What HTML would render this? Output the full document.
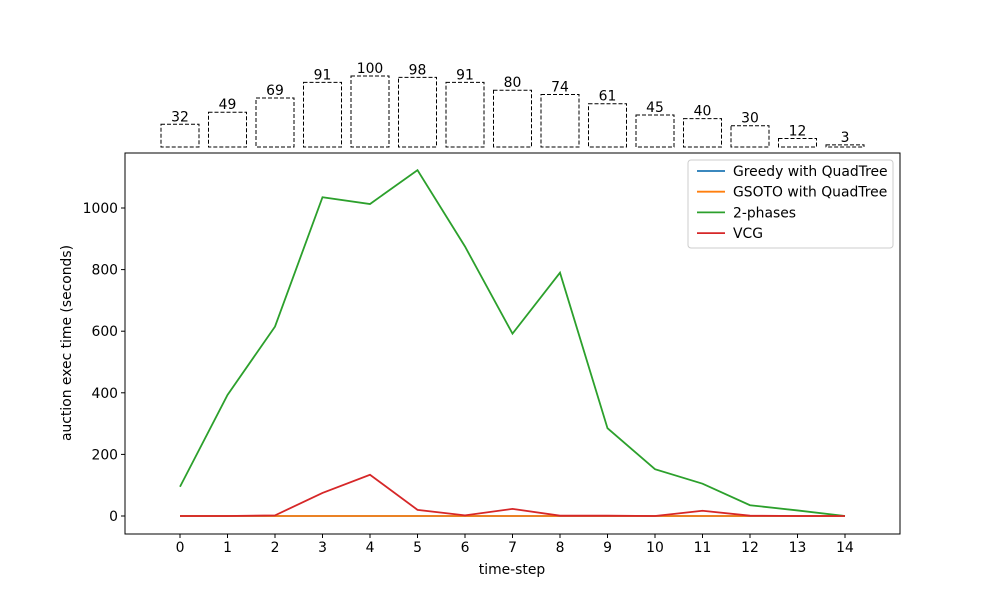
<!DOCTYPE html>
<html><head><meta charset="utf-8"><style>
body{margin:0;background:#fff;font-family:"DejaVu Sans","Liberation Sans",sans-serif;}
svg text{font-family:"DejaVu Sans","Liberation Sans",sans-serif;font-size:13.9px;fill:#000;}
</style></head><body>
<svg id="chart" width="1000" height="600" xmlns="http://www.w3.org/2000/svg">
<rect width="1000" height="600" fill="#fff"/>
<g id="bars"></g>
<g id="main"></g>
</svg>
<script>
const steps=[0,1,2,3,4,5,6,7,8,9,10,11,12,13,14];
const counts=[32,49,69,91,100,98,91,80,74,61,45,40,30,12,3];
const greedy=[0,0,0,0,0,0,0,0,0,0,0,0,0,0,0];
const gsoto=[0,0,0,0,0,0,0,0,0,0,0,0,0,0,0];
const twoPhases=[95,393,615,1035,1013,1123,875,592,790,285,152,105,35,18,0];
const vcg=[0,0,2,75,134,20,2,23,1,1,0,17,1,0,0];
const yTicks=[0,200,400,600,800,1000];
const seriesNames=["Greedy with QuadTree","GSOTO with QuadTree","2-phases","VCG"];
const colors=["#1f77b4","#ff7f0e","#2ca02c","#d62728"];
const NS="http://www.w3.org/2000/svg";
function mk(tag,attrs,parent,text){const e=document.createElementNS(NS,tag);for(const k in attrs)e.setAttribute(k,attrs[k]);if(text!==undefined)e.textContent=text;parent.appendChild(e);return e;}
const L=125,R=900,T=153,B=534;
const x=i=>180+i*47.5;
const y=v=>516-v*0.308;
const bh=v=>v*0.71;
const bars=document.getElementById('bars');
const main=document.getElementById('main');
counts.forEach((c,i)=>{
 const r=mk('rect',{x:x(steps[i])-19,y:147-bh(c),width:38,height:bh(c),fill:'none',stroke:'#000','stroke-dasharray':'4,2'},bars);
 
 
 const t=mk('text',{x:x(steps[i]),y:147-bh(c)-3,'text-anchor':'middle'},bars,String(c));
 
 
});
const fr=mk('rect',{x:L,y:T,width:R-L,height:B-T,fill:'none',stroke:'#000','stroke-width':1},main);


steps.forEach(s=>{
 mk('line',{x1:x(s),x2:x(s),y1:B,y2:B+4,stroke:'#000'},main);
 const t=mk('text',{x:x(s),y:B+18,'text-anchor':'middle'},main,String(s));
 
 
});
yTicks.forEach(v=>{
 mk('line',{x1:L-4,x2:L,y1:y(v),y2:y(v),stroke:'#000'},main);
 const t=mk('text',{x:L-7,y:y(v)+5,'text-anchor':'end'},main,String(v));
 
 
});
const xt=mk('text',{x:512,y:574,'text-anchor':'middle'},main,'time-step');


const yt=mk('text',{x:71,y:343,'text-anchor':'middle',transform:'rotate(-90 71 343)'},main,'auction exec time (seconds)');


[greedy,gsoto,twoPhases,vcg].forEach((d,k)=>{
 const p=mk('polyline',{points:d.map((v,i)=>x(steps[i])+','+y(v)).join(' '),fill:'none',stroke:colors[k],'stroke-width':1.8},main);
 
 
});
const lg=mk('g',{},main);


mk('rect',{x:688,y:160,width:205,height:88,rx:3,fill:'#fff',stroke:'#ccc'},lg);
seriesNames.forEach((n,k)=>{
 const yy=171+k*20.7;
 mk('line',{x1:697,x2:725,y1:yy,y2:yy,stroke:colors[k],'stroke-width':1.8},lg);
 const t=mk('text',{x:733,y:yy+5},lg,n);
 
 
});
</script>
</body></html>
